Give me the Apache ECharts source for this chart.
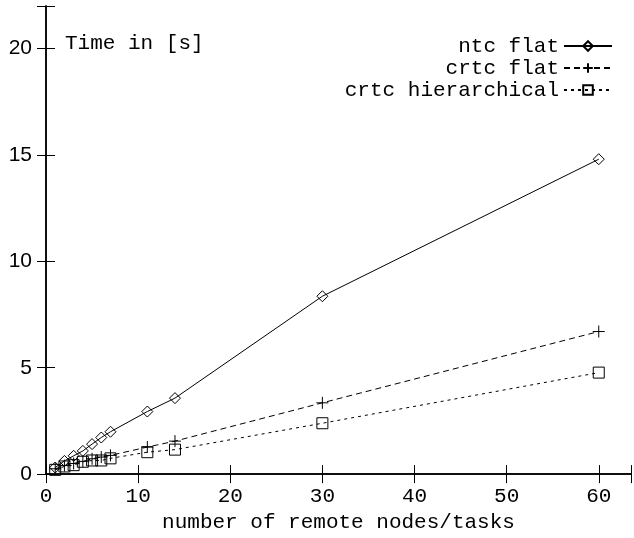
<!DOCTYPE html>
<html>
<head>
<meta charset="utf-8">
<script src="https://cdn.jsdelivr.net/npm/echarts@6/dist/echarts.min.js"></script>
<style>
html,body{margin:0;padding:0;background:#fff;}
#c{width:634px;height:538px;}
</style>
</head>
<body>
<div id="c"></div>
<script>
// ---- data ----
var tasks = [1, 2, 3, 4, 5, 6, 7, 11, 14, 30, 60];
var ntcFlat = [0.31, 0.62, 0.86, 1.09, 1.41, 1.72, 1.99, 2.94, 3.57, 8.36, 14.8];
var crtcFlat = [0.25, 0.40, 0.50, 0.60, 0.72, 0.80, 0.88, 1.27, 1.55, 3.35, 6.70];
var crtcHier = [0.20, 0.36, 0.42, 0.58, 0.64, 0.64, 0.74, 1.03, 1.15, 2.39, 4.77];
var seriesNames = ['ntc flat', 'crtc flat', 'crtc hierarchical'];
var xTicks = [0, 10, 20, 30, 40, 50, 60];
var yTicks = [0, 5, 10, 15, 20];
var xTitle = 'number of remote nodes/tasks';
var yTitle = 'Time in [s]';

function pairs(xs, ys) { return xs.map(function (x, i) { return [x, ys[i]]; }); }

var mono = 'Liberation Mono';
var sans = 'Liberation Sans';
var plusPath = 'path://M0,6L12,6M6,0L6,12';

var chart = echarts.init(document.getElementById('c'), null, {renderer: 'canvas'});

var axisLine = {show: true, lineStyle: {color: '#000', width: 1.5}};
var tickIn = {show: true, inside: true, length: 9, lineStyle: {color: '#000', width: 1}};

chart.setOption({
  animation: false,
  backgroundColor: '#fff',
  grid: {left: 46, right: 1, top: 6, bottom: 63, containLabel: false},
  xAxis: [{
    type: 'value', min: 0, max: 63.5, interval: 10, position: 'bottom',
    axisLine: axisLine, axisTick: tickIn, splitLine: {show: false},
    axisLabel: {
      color: '#000', fontFamily: mono, fontSize: 21, margin: 12,
      formatter: function (v) { return xTicks.indexOf(v) >= 0 ? String(v) : ''; }
    },
    name: xTitle, nameLocation: 'middle', nameGap: 37,
    nameTextStyle: {color: '#000', fontFamily: mono, fontSize: 21}
  }, {
    type: 'value', min: 0, max: 63.5, interval: 10, position: 'top',
    axisLine: axisLine, axisTick: tickIn, axisLabel: {show: false}, splitLine: {show: false}
  }],
  yAxis: [{
    type: 'value', min: 0, max: 22, interval: 5, position: 'left',
    axisLine: axisLine, axisTick: tickIn, splitLine: {show: false},
    axisLabel: {
      color: '#000', fontFamily: sans, fontSize: 21, margin: 14,
      formatter: function (v) { return yTicks.indexOf(v) >= 0 ? String(v) : ''; }
    }
  }, {
    type: 'value', min: 0, max: 22, interval: 5, position: 'right',
    axisLine: axisLine, axisTick: tickIn, axisLabel: {show: false}, splitLine: {show: false}
  }],
  legend: {
    orient: 'vertical', right: 16, top: 30, align: 'right',
    itemWidth: 48, itemHeight: 12, itemGap: 0,
    textStyle: {color: '#000', fontFamily: mono, fontSize: 21, lineHeight: 22},
    data: seriesNames
  },
  graphic: [{
    type: 'text', left: 65, top: 33,
    style: {text: yTitle, fill: '#000', font: '21px "Liberation Mono"'}
  }],
  series: [{
    name: seriesNames[0], type: 'line', data: pairs(tasks, ntcFlat),
    symbol: 'diamond', symbolSize: 11,
    itemStyle: {color: 'rgba(0,0,0,0)', borderColor: '#000', borderWidth: 1},
    lineStyle: {color: '#000', width: 1, type: 'solid'}
  }, {
    name: seriesNames[1], type: 'line', data: pairs(tasks, crtcFlat),
    symbol: plusPath, symbolSize: 12,
    itemStyle: {color: 'rgba(0,0,0,0)', borderColor: '#000', borderWidth: 1},
    lineStyle: {color: '#000', width: 1, type: [6, 4]}
  }, {
    name: seriesNames[2], type: 'line', data: pairs(tasks, crtcHier),
    symbol: 'rect', symbolSize: 11,
    itemStyle: {color: 'rgba(0,0,0,0)', borderColor: '#000', borderWidth: 1},
    lineStyle: {color: '#000', width: 1, type: [3, 4]}
  }]
});
</script>
</body>
</html>
